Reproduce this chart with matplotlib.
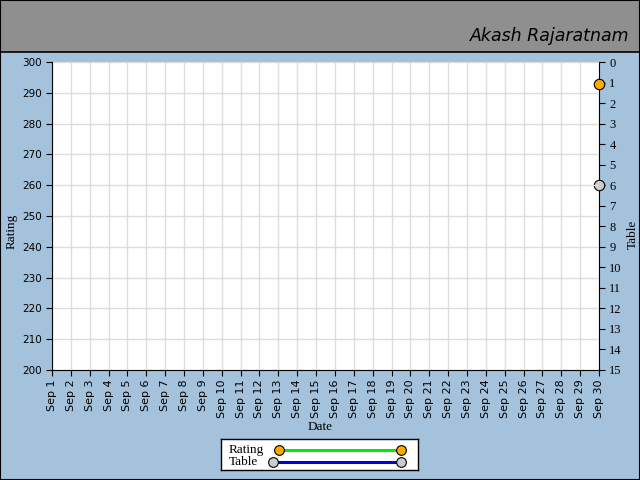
import matplotlib
matplotlib.use("Agg")
import matplotlib.pyplot as plt
from matplotlib.patches import Rectangle
from matplotlib.lines import Line2D

# data
days = list(range(1, 31))
day_labels = ["Sep %d" % d for d in days]
rating_days = [30]
rating = [293]
table_days = [30]
table = [6]
rating_ticks = list(range(200, 301, 10))
table_ticks = list(range(0, 16))

bg = '#a4c2dc'
fig = plt.figure(figsize=(6.4, 4.8), dpi=100, facecolor=bg)

# title bar
fig.patches.append(Rectangle((0, 1 - 52/480), 1, 52/480, transform=fig.transFigure,
                             facecolor='#8f8f8f', edgecolor='none', zorder=0))
fig.add_artist(Line2D([0, 1], [1 - 52/480, 1 - 52/480], transform=fig.transFigure,
                      color='black', lw=1.2))
fig.text(629/640, 1 - 36/480, "Akash Rajaratnam", ha='right', va='center',
         fontsize=12.5, family='DejaVu Sans', style='italic', fontweight='light')

ax = fig.add_axes([52/640, 1 - 370/480, 547/640, 308/480])
ax.set_xlim(1, 30)
ax.set_ylim(200, 300)
ax.set_xticks(days)
ax.set_xticklabels(day_labels, rotation=90, fontsize=8, family='DejaVu Sans')
ax.set_yticks(rating_ticks)
ax.tick_params(axis='y', labelsize=7.5, length=4, direction='out')
ax.tick_params(axis='x', length=4, direction='out', pad=3)
ax.grid(True, color='#dddddd', lw=1)
ax.spines['top'].set_visible(False)
ax.spines['right'].set_visible(False)
ax.set_xlabel('Date', family='Liberation Serif', fontsize=9.5)
ax.set_ylabel('Rating', family='Liberation Serif', fontsize=9.5)
ax.xaxis.set_label_coords(268/547, -0.165)
ax.yaxis.set_label_coords(-0.062, 0.45)

ax2 = ax.twinx()
ax2.set_ylim(15, 0)
ax2.set_yticks(table_ticks)
ax2.tick_params(axis='y', length=4, direction='out')
for lab in ax2.get_yticklabels():
    lab.set_family('Liberation Serif')
    lab.set_fontsize(9)
for s in ['top', 'left', 'bottom']:
    ax2.spines[s].set_visible(False)
ax2.set_ylabel('Table', family='Liberation Serif', fontsize=9.5)
ax2.yaxis.set_label_coords(1.051, 0.44)

# rating axes on top so its marker covers the right spine
ax2.set_zorder(1)
ax.set_zorder(2)
ax.patch.set_visible(False)
ax2.patch.set_visible(True)
ax2.patch.set_facecolor('white')


def series(a, x, y, line, face):
    ls = '-' if len(x) > 1 else 'none'
    a.plot(x, y, color=line, lw=2, ls=ls, marker='o', ms=7.5,
           mfc=face, mec='black', mew=0.8, clip_on=False, zorder=5)


series(ax, rating_days, rating, '#00ee00', '#ffaa00')
series(ax2, table_days, table, '#0000dd', '#cccccc')

# legend box
lg = fig.add_axes([221/640, 1 - 470/480, 197/640, 31/480])
lg.set_xlim(0, 197)
lg.set_ylim(31, 0)
lg.set_xticks([])
lg.set_yticks([])
for s in lg.spines.values():
    s.set_linewidth(1)
lg.text(8, 11, 'Rating', va='center', ha='left', family='Liberation Serif', fontsize=9.5)
lg.text(8, 23, 'Table', va='center', ha='left', family='Liberation Serif', fontsize=9.5)
lg.plot([58, 180], [11, 11], color='#00ee00', lw=2.2, marker='o', ms=7,
        mfc='#ffaa00', mec='black', mew=0.8, clip_on=False)
lg.plot([52, 180], [23, 23], color='#0000dd', lw=2.2, marker='o', ms=7,
        mfc='#cccccc', mec='black', mew=0.8, clip_on=False)

# outer border
fig.patches.append(Rectangle((0, 0), 1, 1, transform=fig.transFigure, fill=False,
                             edgecolor='black', lw=1.5, zorder=10))

fig.savefig('out.png', dpi=100, facecolor=bg)
